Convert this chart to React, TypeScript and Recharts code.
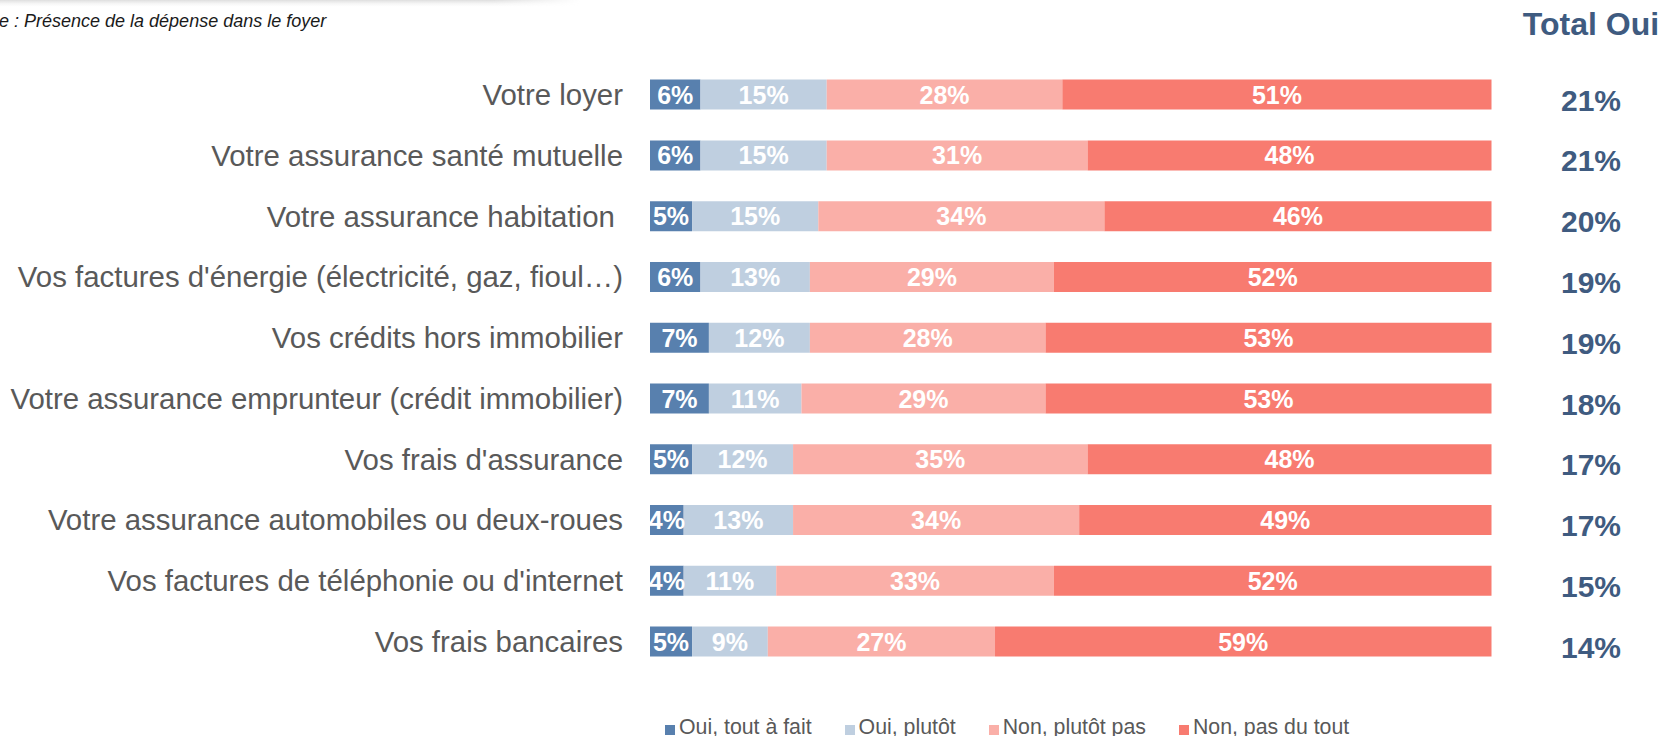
import React from 'react';
import { BarChart, Bar, XAxis, YAxis, LabelList, Legend } from 'recharts';

const categories = [
  'Votre loyer',
  'Votre assurance santé mutuelle',
  'Votre assurance habitation ',
  "Vos factures d'énergie (électricité, gaz, fioul…)",
  'Vos crédits hors immobilier',
  'Votre assurance emprunteur (crédit immobilier)',
  "Vos frais d'assurance",
  'Votre assurance automobiles ou deux-roues',
  "Vos factures de téléphonie ou d'internet",
  'Vos frais bancaires',
];
const ouiToutAFait = [6, 6, 5, 6, 7, 7, 5, 4, 4, 5];
const ouiPlutot = [15, 15, 15, 13, 12, 11, 12, 13, 11, 9];
const nonPlutotPas = [28, 31, 34, 29, 28, 29, 35, 34, 33, 27];
const nonPasDuTout = [51, 48, 46, 52, 53, 53, 48, 49, 52, 59];
const totalOui = [21, 21, 20, 19, 19, 18, 17, 17, 15, 14];

const seriesNames = ['Oui, tout à fait', 'Oui, plutôt', 'Non, plutôt pas', 'Non, pas du tout'];
const seriesKeys = ['ouiToutAFait', 'ouiPlutot', 'nonPlutotPas', 'nonPasDuTout'];
const seriesColors = ['#5880AE', '#BFCFE0', '#FAAFA8', '#F87B70'];

const title = 'e : Présence de la dépense dans le foyer';
const totalTitle = 'Total Oui';

const data = categories.map((name, i) => ({
  name,
  ouiToutAFait: ouiToutAFait[i],
  ouiPlutot: ouiPlutot[i],
  nonPlutotPas: nonPlutotPas[i],
  nonPasDuTout: nonPasDuTout[i],
  total: totalOui[i],
}));

const FONT = '"Liberation Sans", Arial, Helvetica, sans-serif';
const TOTAL_COLOR = '#3F5B80';

const CategoryTick = (props: any) => {
  const { x, y, payload } = props;
  return (
    <text
      x={x}
      y={y}
      dy={10}
      textAnchor="end"
      fill="#595959"
      fontSize={29.4}
      fontFamily={FONT}
      style={{ whiteSpace: 'pre' }}
    >
      {payload.value}
    </text>
  );
};

const SegmentLabel = (props: any) => {
  const { x, y, width, height, value } = props;
  return (
    <text
      x={x + width / 2}
      y={y + height / 2}
      dy={9}
      textAnchor="middle"
      fill="#FFFFFF"
      fontSize={25}
      fontWeight="bold"
      fontFamily={FONT}
    >
      {`${value}%`}
    </text>
  );
};

const TotalLabel = (props: any) => {
  const { x, y, width, height, index } = props;
  return (
    <text
      x={x + width + 99.5}
      y={y + height / 2}
      dy={16}
      textAnchor="middle"
      fill={TOTAL_COLOR}
      fontSize={30}
      fontWeight="bold"
      fontFamily={FONT}
    >
      {`${totalOui[index]}%`}
    </text>
  );
};

const LegendContent = () => (
  <div style={{ display: 'flex', alignItems: 'center', height: 24, fontFamily: FONT }}>
    {seriesNames.map((n, i) => (
      <div key={n} style={{ display: 'flex', alignItems: 'center', marginRight: i < 3 ? 33 : 0 }}>
        <span
          style={{
            display: 'inline-block',
            width: 10,
            height: 10,
            background: seriesColors[i],
            marginRight: 4,
            marginTop: 5,
          }}
        />
        <span style={{ fontSize: 21.3, color: '#595959', lineHeight: '24px', whiteSpace: 'pre' }}>{n}</span>
      </div>
    ))}
  </div>
);

export default function App() {
  return (
    <div style={{ position: 'absolute', left: 0, top: 0, width: 1660, height: 736, background: '#fff' }}>
      <BarChart
        width={1660}
        height={736}
        data={data}
        layout="vertical"
        margin={{ top: 64.6, right: 168.5, bottom: 63.6, left: 0 }}
      >
        <XAxis type="number" domain={[0, 100]} hide />
        <YAxis
          type="category"
          dataKey="name"
          width={650}
          axisLine={false}
          tickLine={false}
          tickSize={0}
          tickMargin={27}
          interval={0}
          tick={<CategoryTick />}
        />
        <Legend
          layout="horizontal"
          verticalAlign="middle"
          align="center"
          wrapperStyle={{ top: 715, left: 665, width: 800, height: 24 }}
          content={<LegendContent />}
        />
        {seriesKeys.map((k, i) => (
          <Bar
            key={k}
            dataKey={k}
            name={seriesNames[i]}
            stackId="a"
            fill={seriesColors[i]}
            barSize={30}
            isAnimationActive={false}
          >
            <LabelList dataKey={k} content={<SegmentLabel />} />
            {i === 3 ? <LabelList dataKey="total" content={<TotalLabel />} /> : null}
          </Bar>
        ))}
      </BarChart>
      <svg
        width={1660}
        height={736}
        style={{ position: 'absolute', left: 0, top: 0, pointerEvents: 'none' }}
      >
        <defs>
          <linearGradient id="shadowV" x1="0" y1="0" x2="0" y2="1">
            <stop offset="0" stopColor="#cfcfcf" stopOpacity={0.7} />
            <stop offset="1" stopColor="#ffffff" stopOpacity={0} />
          </linearGradient>
          <linearGradient id="fadeH" x1="0" y1="0" x2="1" y2="0">
            <stop offset="0" stopColor="#fff" stopOpacity={1} />
            <stop offset="0.85" stopColor="#fff" stopOpacity={1} />
            <stop offset="1" stopColor="#fff" stopOpacity={0} />
          </linearGradient>
          <mask id="shadowMask">
            <rect x={0} y={0} width={580} height={8} fill="url(#fadeH)" />
          </mask>
        </defs>
        <rect x={0} y={0} width={580} height={8} fill="url(#shadowV)" mask="url(#shadowMask)" />
        <text x={-1} y={27} fontSize={18} fontStyle="italic" fill="#1a1a1a" fontFamily={FONT}>
          {title}
        </text>
        <text
          x={1591}
          y={35}
          textAnchor="middle"
          fontSize={32}
          fontWeight="bold"
          fill={TOTAL_COLOR}
          fontFamily={FONT}
        >
          {totalTitle}
        </text>
      </svg>
    </div>
  );
}
